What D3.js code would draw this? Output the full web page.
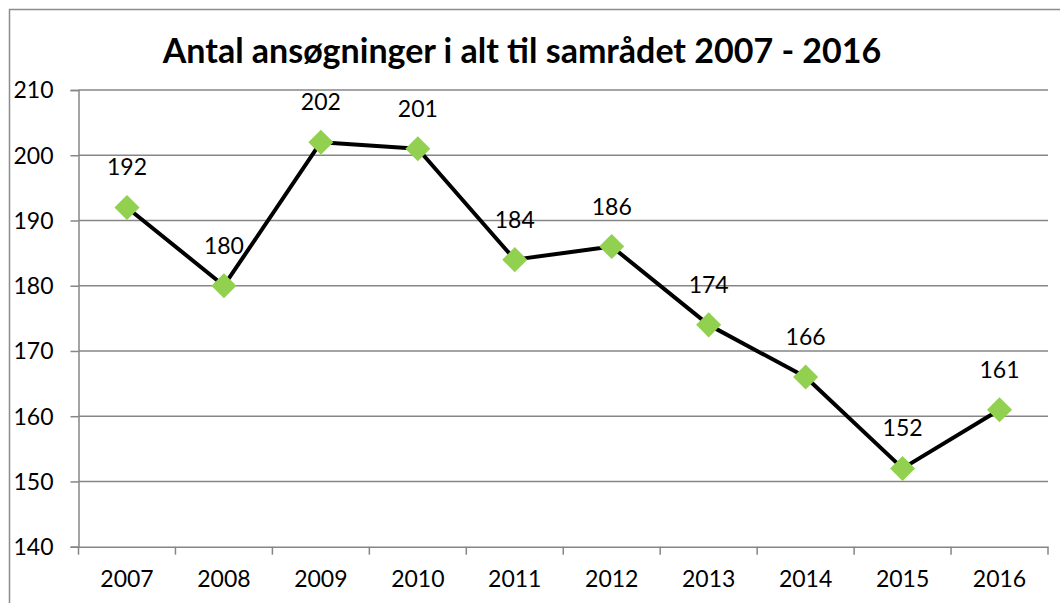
<!DOCTYPE html>
<html>
<head>
<meta charset="utf-8">
<script src="https://cdn.jsdelivr.net/npm/d3@7"></script>
<style>
  body { margin: 0; background: #fff; }
  svg { display: block; }
  text { font-family: Lato, "Open Sans", sans-serif; fill: #000; }
</style>
</head>
<body>
<div id="chart"></div>
<script>
// chart data
var years = ['2007', '2008', '2009', '2010', '2011', '2012', '2013', '2014', '2015', '2016'];
var applications = [192, 180, 202, 201, 184, 186, 174, 166, 152, 161];
var yTicks = [140, 150, 160, 170, 180, 190, 200, 210];
var title = 'Antal ansøgninger i alt til samrådet 2007 - 2016';

var width = 1060, height = 603;
var plot = { left: 78.5, right: 1048, top: 90, bottom: 546.7 };

var svg = d3.select('#chart').append('svg')
  .attr('width', width)
  .attr('height', height);

// outer chart border (right/bottom fall outside the picture)
svg.append('rect')
  .attr('x', 9.5).attr('y', 9.5)
  .attr('width', 1100).attr('height', 700)
  .attr('fill', 'none')
  .attr('stroke', '#8c8c8c')
  .attr('stroke-width', 1.5);

var x = d3.scaleBand()
  .domain(years)
  .range([plot.left, plot.right]);

var y = d3.scaleLinear()
  .domain([140, 210])
  .range([plot.bottom, plot.top]);

// gridlines + y ticks
var yAxis = svg.append('g')
  .attr('transform', 'translate(' + plot.left + ',0)')
  .call(d3.axisLeft(y).tickValues(yTicks).tickSize(8).tickPadding(17));
yAxis.select('.domain').attr('stroke', '#868686').attr('stroke-width', 1.5);
yAxis.selectAll('.tick line').attr('stroke', '#868686').attr('stroke-width', 1.5);
yAxis.selectAll('.tick text').attr('font-size', 23).attr('dy', '0.34em');

svg.append('g').selectAll('line')
  .data(yTicks.filter(function(d) { return d > 140; }))
  .join('line')
  .attr('x1', plot.left).attr('x2', plot.right)
  .attr('y1', function(d) { return y(d); })
  .attr('y2', function(d) { return y(d); })
  .attr('stroke', '#868686')
  .attr('stroke-width', 1.5);

// x axis
var xAxis = svg.append('g')
  .attr('transform', 'translate(0,' + plot.bottom + ')')
  .call(d3.axisBottom(x).tickSize(0).tickPadding(24));
xAxis.select('.domain').attr('stroke', '#868686').attr('stroke-width', 1.5);
xAxis.selectAll('.tick text').attr('font-size', 23);

// category boundary ticks
var bounds = years.map(function(d) { return x(d); }).concat([plot.right]);
svg.append('g').selectAll('line')
  .data(bounds)
  .join('line')
  .attr('x1', function(d) { return d; })
  .attr('x2', function(d) { return d; })
  .attr('y1', plot.bottom)
  .attr('y2', plot.bottom + 8)
  .attr('stroke', '#868686')
  .attr('stroke-width', 1.5);

var cx = function(i) { return x(years[i]) + x.bandwidth() / 2; };

// line
var line = d3.line()
  .x(function(d, i) { return cx(i); })
  .y(function(d) { return y(d); });

svg.append('path')
  .datum(applications)
  .attr('d', line)
  .attr('fill', 'none')
  .attr('stroke', '#000')
  .attr('stroke-width', 4)
  .attr('stroke-linejoin', 'round');

// diamond markers
var diamond = d3.symbol().type(d3.symbolDiamond2).size(400);
svg.append('g').selectAll('path')
  .data(applications)
  .join('path')
  .attr('d', diamond)
  .attr('transform', function(d, i) { return 'translate(' + cx(i) + ',' + y(d) + ')'; })
  .attr('fill', '#92d050');

// data labels
svg.append('g').selectAll('text')
  .data(applications)
  .join('text')
  .attr('x', function(d, i) { return cx(i); })
  .attr('y', function(d) { return y(d) - 32; })
  .attr('text-anchor', 'middle')
  .attr('font-size', 23)
  .text(function(d) { return d; });

// title
svg.append('text')
  .attr('x', 522)
  .attr('y', 63)
  .attr('text-anchor', 'middle')
  .attr('font-size', 34)
  .attr('font-weight', 'bold')
  .text(title);
</script>
</body>
</html>
